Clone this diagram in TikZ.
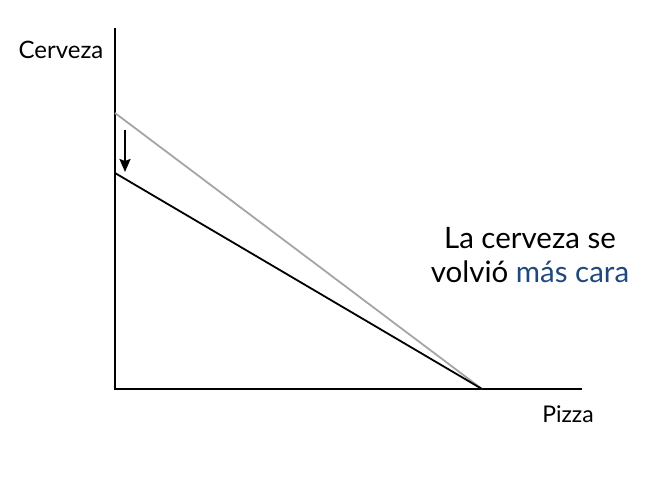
\documentclass[tikz,border=0pt]{standalone}
\usepackage{fontspec}
\setmainfont{Lato}
\usetikzlibrary{arrows.meta}
\definecolor{txtblue}{RGB}{31,73,125}
\definecolor{oldgray}{RGB}{165,165,165}
\begin{document}
\begin{tikzpicture}[x=1pt,y=-1pt,
  axis/.style={line width=2.8pt},
  budget/.style={line width=1.8pt},
  lbl/.style={inner sep=0pt,anchor=center}]
\useasboundingbox (0,0) rectangle (661,477);
\coordinate (O) at (115,389);
\coordinate (ytop) at (115,28);
\coordinate (xend) at (582,389);
\coordinate (g0) at (115,113);
\coordinate (b0) at (115,173);
\coordinate (p) at (482,389);
\coordinate (a1) at (125,130);
\coordinate (a2) at (125,172);
\draw[axis] (ytop) -- (O) -- (xend);
\draw[budget,oldgray] (g0) -- (p);
\draw[budget,black] (b0) -- (p);
\draw[line width=2pt,-{Stealth[length=13pt,width=11pt,inset=2pt]}] (a1) -- (a2);
\node[lbl,font=\fontsize{24}{28}\selectfont] (cer) at (61,50) {Cerveza};
\node[lbl,font=\fontsize{23}{27}\selectfont] (piz) at (568,414) {Pizza};
\node[lbl,font=\fontsize{29.5}{34}\selectfont] (t1) at (530,238) {La cerveza se};
\node[lbl,font=\fontsize{29.5}{34}\selectfont] (t2) at (530,272) {volvió \textcolor{txtblue}{más cara}};
\end{tikzpicture}
\end{document}
